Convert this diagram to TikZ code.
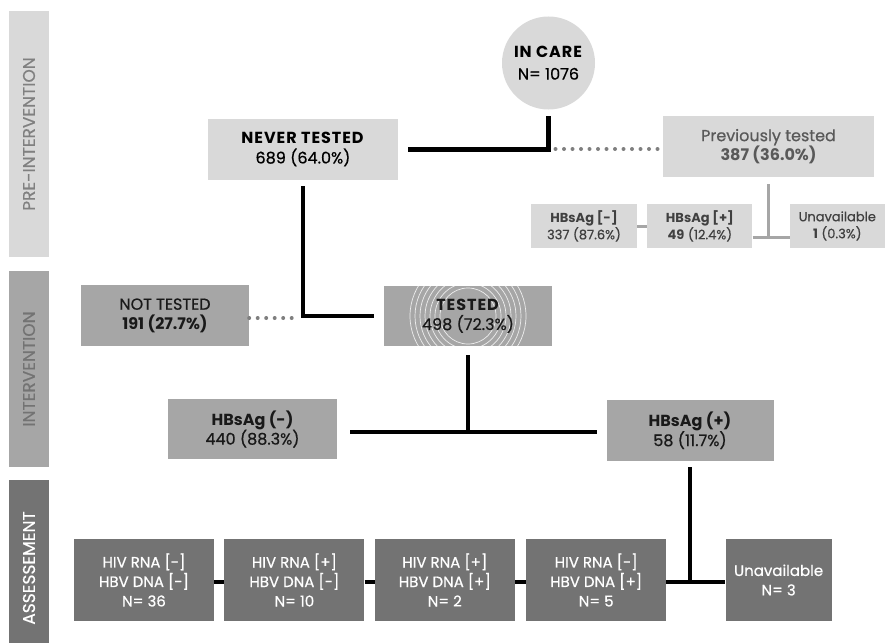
\documentclass[tikz,border=0pt]{standalone}
\usepackage{fontspec}
\setmainfont{Poppins}[UprightFeatures={FakeBold=0.6}]
\usetikzlibrary{shapes, arrows.meta, positioning}
\definecolor{lightgr}{HTML}{D9D9D9}
\definecolor{midgr}{HTML}{A6A6A6}
\definecolor{darkgr}{HTML}{737373}
\definecolor{txtgr}{HTML}{595959}
\definecolor{bandtxt}{HTML}{808080}
\definecolor{dotgr}{HTML}{7F7F7F}
\newcommand{\widecaps}[1]{{\addfontfeatures{LetterSpace=6}#1}}
\tikzset{
	box/.style={draw=none, align=center, inner sep=0pt},
	lightbox/.style={box, fill=lightgr, font=\fontsize{16}{19.5}\selectfont},
	midbox/.style={box, fill=midgr, text=black!90, font=\fontsize{16}{19.5}\selectfont},
	smallbox/.style={box, fill=lightgr, text=black!75, minimum height=44pt,
		font=\fontsize{13}{17}\selectfont},
	resultbox/.style={box, fill=darkgr, text=white, minimum height=82pt,
		font=\fontsize{15}{19.5}\selectfont},
	band/.style={box, rotate=90, minimum height=40pt, font=\fontsize{17}{20}\selectfont},
	mainline/.style={line width=4.5pt, black},
	greyline/.style={line width=3pt, midgr},
	dotline/.style={line width=4pt, dotgr, line cap=round, dash pattern=on 0pt off 8.5pt},
	ripples/.style={path picture={
		\foreach \r in {28,33,...,58}
			\draw[white, line width=0.7pt, opacity=0.8]
				(path picture bounding box.center) circle[radius=\r pt];}}
}

\begin{document}
\begin{tikzpicture}[x=1pt, y=-1pt]
	\useasboundingbox (0,0) rectangle (885,642);
	% phase bands
	\node[band, fill=lightgr, text=bandtxt, minimum width=246pt] (preband) at (29,134)
		{PRE-INTERVENTION};
	\node[band, fill=midgr, text=darkgr, minimum width=196pt] (intband) at (29,369)
		{INTERVENTION};
	\node[band, fill=darkgr, text=white, minimum width=176pt] (assband) at (29,568)
		{ASSESSEMENT};

	% pre-intervention
	\node[circle, fill=lightgr, minimum size=93pt, inner sep=0pt, align=center,
		font=\fontsize{16}{22}\selectfont] (incare) at (548.5,63)
		{\textbf{\widecaps{IN CARE}}\\N= 1076};
	\node[lightbox, minimum width=190pt, minimum height=61pt] (never) at (303,149.5)
		{\textbf{\widecaps{NEVER TESTED}}\\689 (64.0\%)};
	\node[lightbox, text=txtgr, minimum width=211pt, minimum height=61pt] (prev) at (768.5,146.5)
		{Previously tested\\\textbf{387 (36.0\%)}};
	\node[smallbox, minimum width=106pt] (smallneg) at (584,226)
		{\textbf{HBsAg [-]}\\337 (87.6\%)};
	\node[smallbox, minimum width=105pt, right=10pt of smallneg] (smallpos)
		{\textbf{HBsAg [+]}\\\textbf{49} (12.4\%)};
	\node[smallbox, minimum width=95pt, right=37pt of smallpos] (smallna)
		{Unavailable\\\textbf{1} (0.3\%)};

	% intervention
	\node[midbox, minimum width=168pt, minimum height=61pt] (nottested) at (165,315.5)
		{NOT TESTED\\\textbf{191 (27.7\%)}};
	\node[midbox, ripples, minimum width=168pt, minimum height=60pt] (tested) at (468,316)
		{\textbf{\widecaps{TESTED}}\\498 (72.3\%)};
	\node[midbox, minimum width=169pt, minimum height=60pt] (neg) at (252.5,429)
		{\textbf{HBsAg (-)}\\440 (88.3\%)};
	\node[midbox, minimum width=167pt, minimum height=61pt] (pos) at (690,430.5)
		{\textbf{HBsAg (+)}\\58 (11.7\%)};

	% assessement
	\node[resultbox, minimum width=140pt] (res1) at (144,580)
		{HIV RNA [-]\\HBV DNA [-]\\N= 36};
	\node[resultbox, minimum width=140pt, right=10pt of res1] (res2)
		{HIV RNA [+]\\HBV DNA [-]\\N= 10};
	\node[resultbox, minimum width=140pt, right=10pt of res2] (res3)
		{HIV RNA [+]\\HBV DNA [+]\\N= 2};
	\node[resultbox, minimum width=140pt, right=11pt of res3] (res4)
		{HIV RNA [-]\\HBV DNA [+]\\N= 5};
	\node[resultbox, minimum width=106pt, right=59pt of res4] (resna)
		{Unavailable\\N= 3};

	\coordinate (gsplit) at ([yshift=11pt]smallpos.south -| prev);
	\coordinate (tsplit) at (tested |- 0,432);
	\coordinate (bsplit) at (pos |- 0,582);

	% Lines
	\draw[mainline, shorten <=10pt, shorten >=6pt] (never) -| (incare);
	\draw[dotline, shorten <=7pt] (incare |- 0,149) -- (prev.west |- 0,149);
	\draw[greyline, shorten <=7pt] (prev) -- (gsplit);
	\draw[greyline] (smallneg) -- (smallpos);
	\draw[greyline] (smallpos.east |- gsplit) -- (smallna.west |- gsplit);
	\draw[mainline, shorten <=6pt, shorten >=10pt] (never) |- (tested);
	\draw[dotline, shorten >=4pt] (nottested.east |- 0,318) -- (never |- 0,318);
	\draw[mainline, shorten <=9pt] (tested) -- (tsplit);
	\draw[mainline, shorten <=13pt, shorten >=9pt] (neg.east |- tsplit) -- (pos.west |- tsplit);
	\draw[mainline, shorten <=6pt] (pos) -- (bsplit);
	\draw[mainline] (res1.east |- bsplit) -- (res2.west |- bsplit);
	\draw[mainline] (res2.east |- bsplit) -- (res3.west |- bsplit);
	\draw[mainline] (res3.east |- bsplit) -- (res4.west |- bsplit);
	\draw[mainline] (res4.east |- bsplit) -- (resna.west |- bsplit);
\end{tikzpicture}
\end{document}
